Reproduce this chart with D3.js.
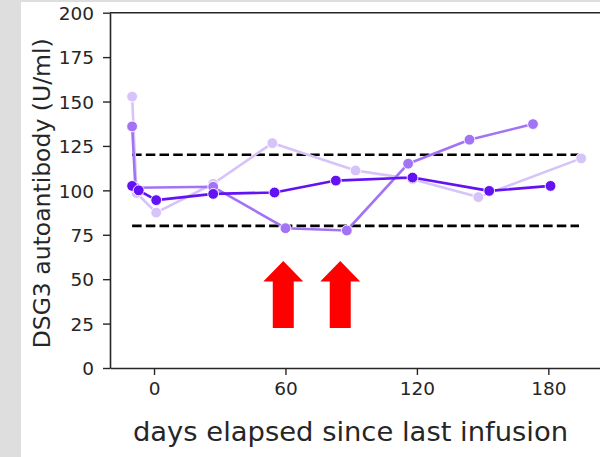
<!DOCTYPE html>
<html>
<head>
<meta charset="utf-8">
<script src="https://cdn.jsdelivr.net/npm/d3@7"></script>
<style>
    html, body { margin: 0; padding: 0; background: #dedede; }
    #chart { width: 600px; height: 457px; }
    svg { display: block; }
</style>
</head>
<body>
<div id="chart"></div>
<script>
// days since last infusion / DSG3 value, one pair of arrays per patient series
const darkDays = [-10, -7, 1, 27, 55, 83, 118, 153, 181];
const darkValues = [102.5, 100, 94.5, 98, 98.8, 105.5, 107.2, 99.7, 102.5];

const mediumDays = [-10, -8.5, 27, 60, 88, 116, 144, 173];
const mediumValues = [136, 101.5, 102, 78.7, 77.4, 115, 128.5, 137.3];

const lightDays = [-10, -8, 1, 27, 54, 92, 118, 148, 195];
const lightValues = [152.8, 98.5, 87.5, 103.7, 126.6, 111.2, 106.3, 96.2, 118];

// reference band (dashed lines)
const bandLevels = [120, 80];
const bandDays = [-10, 194];

// red arrows: x position (days), tail and tip values
const arrowDays = [59, 85];
const arrowTail = 22.5;
const arrowTip = 60.3;

const xTicks = [0, 60, 120, 180];
const yTicks = [0, 25, 50, 75, 100, 125, 150, 175, 200];

const yLabel = "DSG3 autoantibody (U/ml)";
const xLabel = "days elapsed since last infusion";

function renderChart() {
    const outerWidth = 600;
    const outerHeight = 457;
    const fontFamily = "'DejaVu Sans', sans-serif";

    const svg = d3.select("#chart")
        .append("svg")
        .attr("width", outerWidth)
        .attr("height", outerHeight);

    // white figure panel over the grey page
    svg.append("rect")
        .attr("x", 21)
        .attr("y", 2)
        .attr("width", outerWidth - 21)
        .attr("height", outerHeight - 2)
        .attr("fill", "#ffffff");

    const x = d3.scaleLinear()
        .domain([-20.1, 210])
        .range([110, 110 + 230.1 * 2.1906]);
    const y = d3.scaleLinear()
        .domain([0, 200])
        .range([368, 12.7]);

    const yAxis = svg.append("g")
        .attr("transform", `translate(${x.range()[0]}, 0)`)
        .call(d3.axisLeft(y).tickValues(yTicks).tickSize(7).tickPadding(9).tickSizeOuter(0));
    const xAxis = svg.append("g")
        .attr("transform", `translate(0, ${y.range()[0]})`)
        .call(d3.axisBottom(x).tickValues(xTicks).tickSize(7).tickPadding(7).tickSizeOuter(0));

    [yAxis, xAxis].forEach((g) => {
        g.select(".domain").attr("stroke", "#262626").attr("stroke-width", 1.6);
        g.selectAll(".tick line").attr("stroke", "#262626").attr("stroke-width", 1.4);
        g.selectAll(".tick text")
            .attr("fill", "#262626")
            .attr("font-family", fontFamily)
            .attr("font-size", 18.5);
    });
    yAxis.selectAll(".tick text").attr("dy", "0.36em");

    // top spine
    svg.append("line")
        .attr("x1", x.range()[0])
        .attr("x2", outerWidth)
        .attr("y1", y.range()[1])
        .attr("y2", y.range()[1])
        .attr("stroke", "#262626")
        .attr("stroke-width", 1.6);

    svg.selectAll(".band-line")
        .data(bandLevels)
        .enter()
        .append("line")
        .attr("class", "band-line")
        .attr("x1", x(bandDays[0]))
        .attr("x2", x(bandDays[1]))
        .attr("y1", (d) => y(d))
        .attr("y2", (d) => y(d))
        .attr("stroke", "#000000")
        .attr("stroke-width", 2.6)
        .attr("stroke-dasharray", "9.5 4.2");

    const series = [
        {days: lightDays, values: lightValues, color: "#d6c3fa"},
        {days: mediumDays, values: mediumValues, color: "#a274f5"},
        {days: darkDays, values: darkValues, color: "#6312f3"},
    ];

    const line = d3.line()
        .x((d) => x(d.day))
        .y((d) => y(d.value));

    series.forEach((s) => {
        const points = s.days.map((day, i) => ({day: day, value: s.values[i]}));
        const group = svg.append("g");
        group.append("path")
            .datum(points)
            .attr("fill", "none")
            .attr("stroke", s.color)
            .attr("stroke-width", 2.6)
            .attr("stroke-linejoin", "round")
            .attr("d", line);
        group.selectAll("circle")
            .data(points)
            .enter()
            .append("circle")
            .attr("cx", (d) => x(d.day))
            .attr("cy", (d) => y(d.value))
            .attr("r", 5.4)
            .attr("fill", s.color)
            .attr("stroke", "#ffffff")
            .attr("stroke-width", 0.9);
    });

    // block arrows, head sized in pixels
    const headHalf = 20;
    const headLength = 20.5;
    const shaftHalf = 10.5;
    svg.selectAll(".red-arrow")
        .data(arrowDays)
        .enter()
        .append("path")
        .attr("class", "red-arrow")
        .attr("fill", "#ff0000")
        .attr("d", (d) => {
            const cx = x(d);
            const tipY = y(arrowTip);
            const tailY = y(arrowTail);
            const baseY = tipY + headLength;
            return [
                `M${cx},${tipY}`,
                `L${cx + headHalf},${baseY}`,
                `L${cx + shaftHalf},${baseY}`,
                `L${cx + shaftHalf},${tailY}`,
                `L${cx - shaftHalf},${tailY}`,
                `L${cx - shaftHalf},${baseY}`,
                `L${cx - headHalf},${baseY}`,
                "Z",
            ].join(" ");
        });

    svg.append("text")
        .attr("transform", `translate(49.5, ${(y.range()[0] + y.range()[1]) / 2 + 3}) rotate(-90)`)
        .attr("text-anchor", "middle")
        .attr("fill", "#262626")
        .attr("font-family", fontFamily)
        .attr("font-size", 23.5)
        .text(yLabel);

    svg.append("text")
        .attr("x", 350.5)
        .attr("y", 441)
        .attr("text-anchor", "middle")
        .attr("fill", "#262626")
        .attr("font-family", fontFamily)
        .attr("font-size", 27.4)
        .text(xLabel);
}

document.addEventListener("DOMContentLoaded", renderChart);
</script>
</body>
</html>
